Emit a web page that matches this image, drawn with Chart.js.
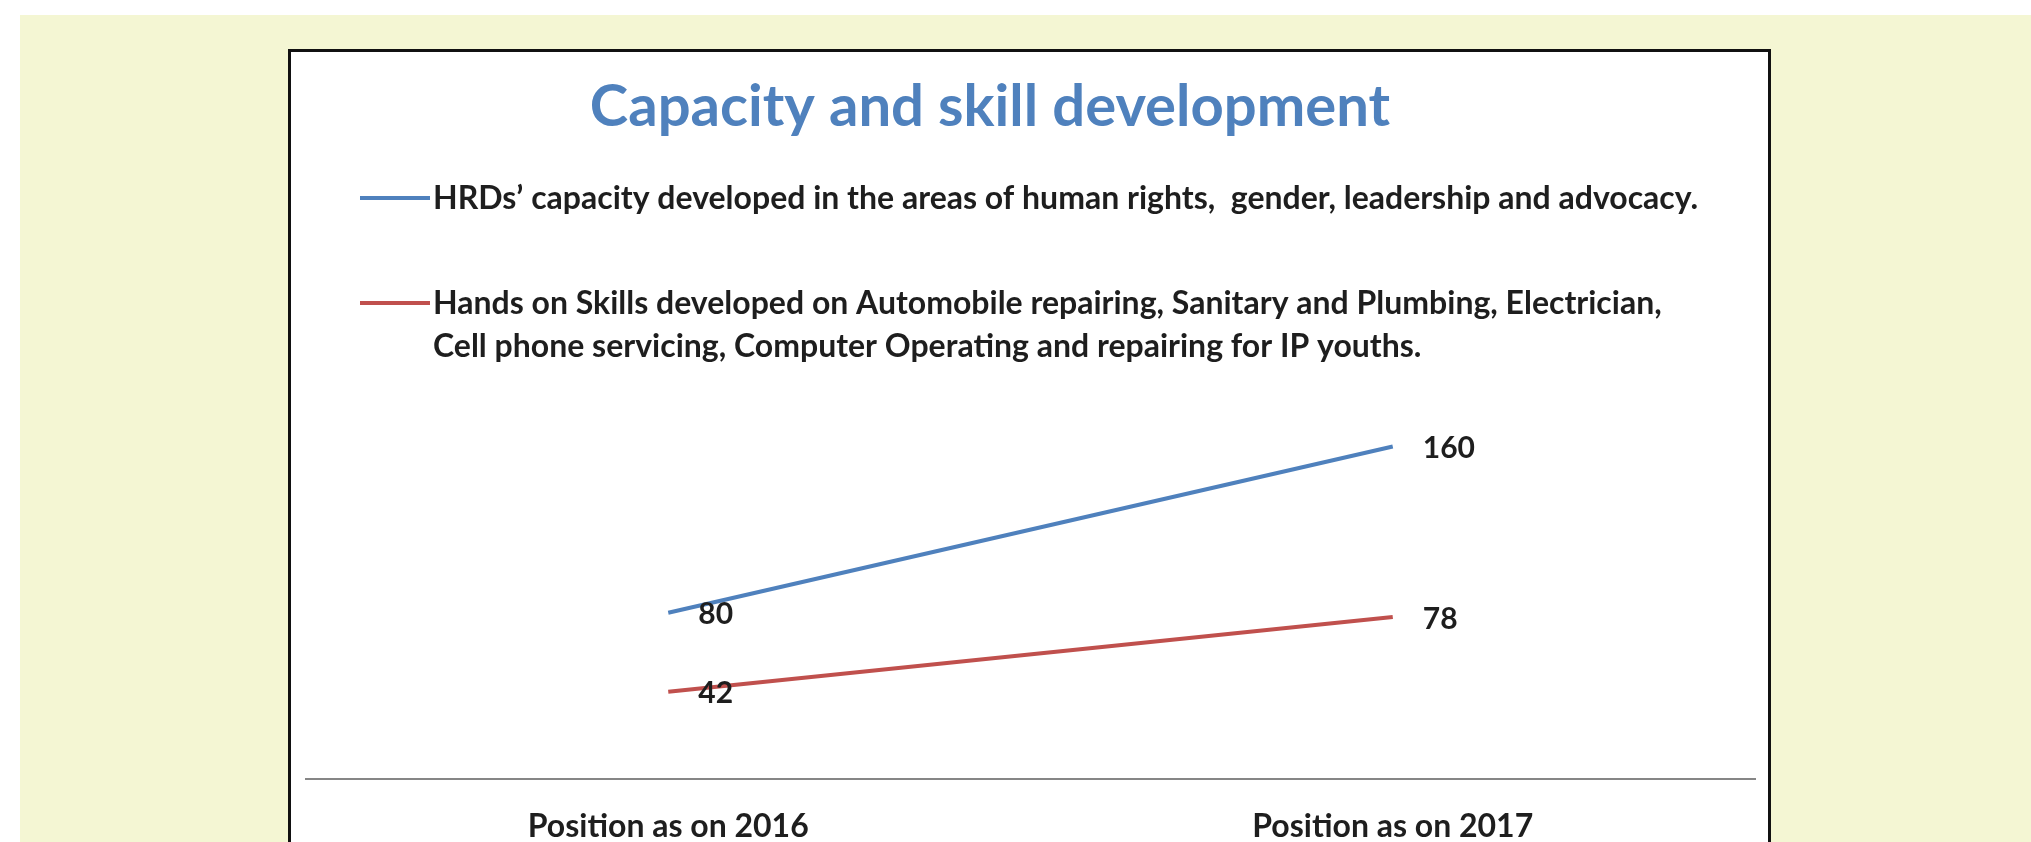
<!DOCTYPE html>
<html>
<head>
<meta charset="utf-8">
<title>Capacity and skill development</title>
<script src="https://cdn.jsdelivr.net/npm/chart.js@4.4.0/dist/chart.umd.min.js"></script>
<style>
  html, body { margin: 0; padding: 0; width: 2031px; height: 842px; overflow: hidden; background: #fff; }
  #bg { position: absolute; left: 20px; top: 15px; width: 2011px; height: 827px; background: #f4f6d3; }
  #box { position: absolute; left: 288px; top: 49px; width: 1477px; height: 800px;
         border: 3px solid #111; border-bottom: none; background: #fff; }
  #wrap { position: relative; width: 1477px; height: 790px; }
</style>
</head>
<body>
<div id="bg"></div>
<div id="box"><div id="wrap"><canvas id="line-chart"></canvas></div></div>
<script>
// data
const chartTitle = 'Capacity and skill development';
const categories = ['Position as on 2016', 'Position as on 2017'];
const seriesNames = [
    'HRDs’ capacity developed in the areas of human rights,  gender, leadership and advocacy.',
    'Hands on Skills developed on Automobile repairing, Sanitary and Plumbing, Electrician, Cell phone servicing, Computer Operating and repairing for IP youths.'
];
const hrdCapacity = [80, 160];
const handsOnSkills = [42, 78];
const seriesColors = ['#4f81bd', '#c0504d'];

function wrapText(ctx, text, maxWidth) {
    const words = text.split(' ');
    const lines = [];
    let line = '';
    words.forEach(w => {
        const test = line === '' ? w : line + ' ' + w;
        if (ctx.measureText(test).width > maxWidth && line !== '') {
            lines.push(line);
            line = w;
        } else {
            line = test;
        }
    });
    lines.push(line);
    return lines;
}

// title + legend drawn in the space above the plot
const headerPlugin = {
    id: 'header',
    afterDraw(chart) {
        const ctx = chart.ctx;
        ctx.save();
        ctx.fillStyle = '#4f81bd';
        ctx.font = 'bold 58px Lato';
        ctx.textAlign = 'center';
        ctx.textBaseline = 'alphabetic';
        ctx.fillText(chartTitle, 699, 74);

        ctx.font = 'bold 32px Lato';
        ctx.textAlign = 'left';
        let y = 157;
        chart.data.datasets.forEach(ds => {
            const lines = wrapText(ctx, ds.label, 1275);
            ctx.strokeStyle = ds.borderColor;
            ctx.lineWidth = 4;
            ctx.beginPath();
            ctx.moveTo(69, y - 11);
            ctx.lineTo(139, y - 11);
            ctx.stroke();
            ctx.fillStyle = '#1e1e1e';
            lines.forEach((l, i) => ctx.fillText(l, 142, y + i * 43));
            y += lines.length * 43 + 62;
        });
        ctx.restore();
    }
};

// value labels to the right of each point
const valueLabels = {
    id: 'valueLabels',
    afterDatasetsDraw(chart) {
        const ctx = chart.ctx;
        ctx.save();
        ctx.font = 'bold 30px Lato';
        ctx.fillStyle = '#1e1e1e';
        ctx.textAlign = 'left';
        ctx.textBaseline = 'middle';
        chart.data.datasets.forEach((ds, i) => {
            chart.getDatasetMeta(i).data.forEach((pt, j) => {
                ctx.fillText(ds.data[j], pt.x + 30, pt.y + 2);
            });
        });
        ctx.restore();
    }
};

new Chart(
    document.getElementById('line-chart'),
    {
        type: 'line',
        data: {
            labels: categories,
            datasets: [
                { label: seriesNames[0], data: hrdCapacity, borderColor: seriesColors[0], borderWidth: 4, pointRadius: 0 },
                { label: seriesNames[1], data: handsOnSkills, borderColor: seriesColors[1], borderWidth: 4, pointRadius: 0 }
            ]
        },
        options: {
            responsive: true,
            maintainAspectRatio: false,
            animation: false,
            devicePixelRatio: 1,
            layout: { padding: { left: 15, right: 13, top: 353, bottom: 3 } },
            plugins: {
                legend: { display: false },
                title: { display: false },
                tooltip: { enabled: false }
            },
            scales: {
                x: {
                    offset: true,
                    grid: { display: false },
                    border: { display: true, color: '#868686', width: 2 },
                    ticks: {
                        color: '#1e1e1e',
                        padding: 20,
                        font: { family: 'Lato', size: 32, weight: 'bold' }
                    },
                    afterFit: scale => { scale.height = 60; }
                },
                y: { display: false, min: 0, max: 180 }
            }
        },
        plugins: [headerPlugin, valueLabels]
    }
);
</script>
</body>
</html>
